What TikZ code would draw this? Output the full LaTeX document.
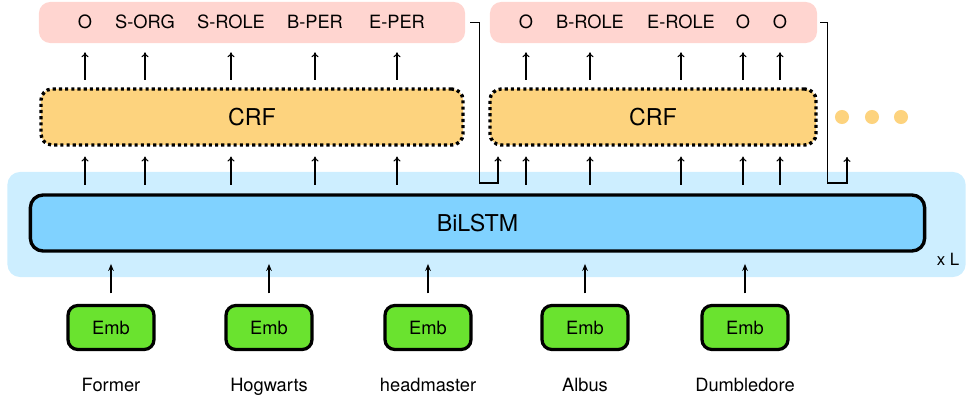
\documentclass[tikz,border=0pt]{standalone}
\usepackage{fontspec}
\setmainfont{TeX Gyre Heros}
\usepackage{tikz}
\usetikzlibrary{arrows.meta,positioning}
\definecolor{tagpink}{HTML}{FFD5D0}
\definecolor{crfyel}{HTML}{FDD37E}
\definecolor{bgblue}{HTML}{CDEEFF}
\definecolor{lstmblue}{HTML}{80D2FF}
\definecolor{embgreen}{HTML}{6AE32F}

\begin{document}
\begin{tikzpicture}[x=0.025cm,y=-0.025cm,
    lbl/.style={font=\fontsize{13}{15}\selectfont,inner sep=0pt,anchor=base},
    tagbox/.style={fill=tagpink,rounded corners=8pt,minimum height=1.025cm,inner sep=0pt},
    crfbox/.style={fill=crfyel,draw=black,line width=2.4pt,dash pattern=on 2.2pt off 2.2pt,
        rounded corners=8pt,minimum height=1.4cm,font=\fontsize{16.5}{19}\selectfont},
    embbox/.style={fill=embgreen,draw=black,line width=2.3pt,rounded corners=7pt,
        minimum width=2.15cm,minimum height=1.1cm,font=\fontsize{13}{15}\selectfont},
    arr/.style={-{To[length=3.5pt,width=5pt]},line width=0.75pt},
    inarr/.style={-{Stealth[length=5pt,width=4pt]},line width=0.9pt}]
\useasboundingbox (0,0) rectangle (967,400);

\node[fill=bgblue,rounded corners=9pt,minimum width=23.95cm,minimum height=2.625cm] (bg) at (486.5,224.5) {};
\node[fill=lstmblue,draw=black,line width=2.4pt,rounded corners=9pt,minimum width=22.35cm,
    minimum height=1.4cm,font=\fontsize{16.5}{19}\selectfont] (lstm) at (477.5,223) {BiLSTM};
\node[font=\fontsize{12}{14}\selectfont,inner sep=0pt] (layers) at (948,259) {x L};

\node[tagbox,minimum width=10.65cm] (tags1) at (252,22.5) {};
\node[tagbox,minimum width=8.175cm] (tags2) at (653.5,22.5) {};
\node[crfbox,minimum width=10.55cm] (crf1) at (252,117) {CRF};
\node[crfbox,minimum width=8.15cm] (crf2) at (653,117) {CRF};

\foreach \x/\t [count=\i] in {85/O,145/S-ORG,231/S-ROLE,315/B-PER,397/E-PER}{
    \node[lbl] (a\i) at (\x,29) {\t};
    \draw[arr,shorten <=5.5pt,shorten >=6.4pt] (crf1.north -| a\i) -- (tags1.south -| a\i);
    \draw[arr,shorten <=6pt,shorten >=7pt] (lstm.north -| a\i) -- (crf1.south -| a\i);
}
\foreach \x/\t [count=\i] in {526/O,590/B-ROLE,681/E-ROLE,743/O,780/O}{
    \node[lbl] (b\i) at (\x,29) {\t};
    \draw[arr,shorten <=5.5pt,shorten >=6.4pt] (crf2.north -| b\i) -- (tags2.south -| b\i);
    \draw[arr,shorten <=6pt,shorten >=7pt] (lstm.north -| b\i) -- (crf2.south -| b\i);
}

\coordinate (bend1) at (498,183);
\coordinate (bend2) at (847,183);
\coordinate (next) at (847,157);
\draw[arr,shorten <=3.5pt,shorten >=7pt] (tags1.east) -- ++(14,0) |- (bend1) -- (crf2.south -| bend1);
\draw[arr,shorten <=2pt] (tags2.east) -- ++(10,0) |- (bend2) -- (next);

\foreach \x [count=\i] in {842,872,901}
    \node[circle,fill=crfyel,minimum size=10pt,inner sep=0pt] (dot\i) at (\x,117) {};

\foreach \x/\w [count=\i] in {111/Former,269/Hogwarts,428/headmaster,585/Albus,745/Dumbledore}{
    \node[embbox] (emb\i) at (\x,327.5) {Emb};
    \node[lbl] (w\i) at (\x,391) {\w};
    \draw[inarr,shorten <=7.5pt,shorten >=8pt] (emb\i.north) -- (lstm.south -| emb\i);
}
\end{tikzpicture}
\end{document}
